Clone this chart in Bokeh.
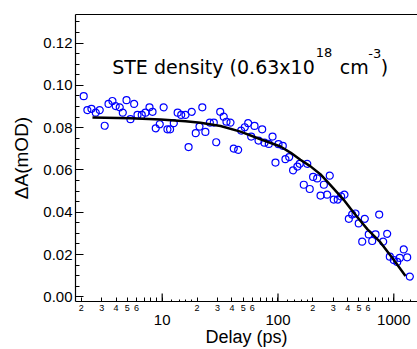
from bokeh.plotting import figure
from bokeh.models import (Range1d, LogAxis, LinearAxis, FixedTicker, PrintfTickFormatter,
                          CustomJSTickFormatter, Label)
from bokeh.embed import file_html
from bokeh.resources import INLINE

# ---- data ----
delay_ps = [2.10, 2.26, 2.45, 2.67, 2.89, 3.19, 3.44, 3.72, 3.97, 4.30,
            4.57, 4.92, 5.32, 5.73, 6.12, 6.66, 7.17, 7.77, 8.25, 8.80,
            9.53, 10.3, 11.1, 11.7, 12.6, 13.6, 14.6, 15.9, 16.9, 18.0,
            19.5, 21.0, 22.2, 23.6, 25.8, 27.9, 29.3, 31.7, 34.0, 35.9,
            38.9, 41.5, 45.3, 48.1, 51.7, 55.3, 58.7, 62.7, 67.9, 73.0,
            76.4, 83.3, 89.7, 95.1, 101, 110, 116, 125, 135, 147,
            154, 167, 179, 188, 201, 218, 233, 249, 266, 280,
            303, 328, 351, 375, 409, 437, 467, 498, 534, 562,
            608, 651, 695, 748, 810, 877, 924, 1000, 1070, 1126,
            1220, 1305, 1376]
delta_a = [0.0949, 0.0883, 0.0889, 0.0871, 0.0883, 0.0809, 0.0912, 0.0926, 0.0902, 0.0896,
           0.0871, 0.0930, 0.0840, 0.0912, 0.0860, 0.0860, 0.0871, 0.0896, 0.0875, 0.0797,
           0.0816, 0.0896, 0.0792, 0.0792, 0.0821, 0.0871, 0.0860, 0.0860, 0.0708, 0.0875,
           0.0774, 0.0805, 0.0896, 0.0780, 0.0824, 0.0824, 0.0731, 0.0875, 0.0852, 0.0828,
           0.0824, 0.0701, 0.0695, 0.0786, 0.0802, 0.0821, 0.0758, 0.0808, 0.0739, 0.0792,
           0.0729, 0.0723, 0.0758, 0.0635, 0.0722, 0.0714, 0.0651, 0.0661, 0.0598, 0.0616,
           0.0629, 0.0530, 0.0629, 0.0510, 0.0567, 0.0560, 0.0479, 0.0530, 0.0483, 0.0573,
           0.0460, 0.0460, 0.0475, 0.0483, 0.0369, 0.0389, 0.0394, 0.0347, 0.0261, 0.0369,
           0.0295, 0.0264, 0.0295, 0.0389, 0.0261, 0.0298, 0.0190, 0.0174, 0.0165, 0.0184,
           0.0224, 0.0187, 0.0096]

fit_delay_ps = [2.5, 5.3, 9.7, 15.9, 21.4, 31.9, 47.4, 70.6, 105, 129,
                156, 191, 232, 284, 368, 449, 593, 768, 994, 1262]
fit_delta_a = [0.0848, 0.0844, 0.0838, 0.0830, 0.0823, 0.0808, 0.0781, 0.0745, 0.0711, 0.0681,
               0.0648, 0.0617, 0.0580, 0.0528, 0.0460, 0.0399, 0.0319, 0.0257, 0.0177, 0.0099]

y_major_ticks = [0.00, 0.02, 0.04, 0.06, 0.08, 0.10, 0.12]
y_minor_ticks = [0.005, 0.010, 0.015, 0.025, 0.030, 0.035, 0.045, 0.050, 0.055,
                 0.065, 0.070, 0.075, 0.085, 0.090, 0.095, 0.105, 0.110, 0.115,
                 0.125, 0.130]
x_small_ticks = [2, 3, 4, 5, 6, 7, 8, 9, 20, 30, 40, 50, 60, 70, 80, 90,
                 200, 300, 400, 500, 600, 700, 800, 900]
x_sub_ticks = [12, 14, 16, 18, 120, 140, 160, 180, 1200, 1400]
x_decade_ticks = [10, 100, 1000]
x_axis_title = "Delay (ps)"
y_axis_title = "ΔA(mOD)"

title_main = "STE density (0.63x10"
title_exp1 = "18"
title_unit = "cm"
title_exp2 = "-3"
title_close = ")"

X_MIN, X_MAX = 1.784, 1602
Y_MIN, Y_MAX = -0.0022, 0.1335

p = figure(width=417, height=349, x_axis_type="log",
           x_range=Range1d(X_MIN, X_MAX), y_range=Range1d(Y_MIN, Y_MAX),
           x_axis_location=None, y_axis_location=None,
           output_backend="svg", toolbar_location=None,
           min_border_left=75, min_border_right=0, min_border_top=14, min_border_bottom=47)
p.grid.grid_line_color = None
p.outline_line_color = None
p.background_fill_color = "white"
p.border_fill_color = "white"

LABEL_FONT = "Liberation Sans"

# y axis
yaxis = LinearAxis(ticker=FixedTicker(ticks=y_major_ticks, minor_ticks=y_minor_ticks),
                   formatter=PrintfTickFormatter(format="%.2f"),
                   axis_label=y_axis_title)
yaxis.major_tick_in = 8
yaxis.major_tick_out = 0
yaxis.minor_tick_in = 4
yaxis.minor_tick_out = 0
yaxis.major_label_standoff = 3
yaxis.axis_label_standoff = 8
yaxis.axis_line_width = 1.2
yaxis.major_tick_line_width = 1.2
yaxis.major_label_text_font = LABEL_FONT
yaxis.major_label_text_font_size = "15px"
yaxis.major_label_text_color = "black"
yaxis.axis_label_text_font = LABEL_FONT
yaxis.axis_label_text_font_size = "19px"
yaxis.axis_label_text_font_style = "normal"
yaxis.axis_label_text_color = "black"
p.add_layout(yaxis, "left")

# x axis with small labels 2..6
small_fmt = CustomJSTickFormatter(code="""
const e = Math.floor(Math.log10(tick) + 1e-9);
const d = Math.round(tick / Math.pow(10, e));
return (d >= 2 && d <= 6) ? String(d) : "";
""")
xaxis_small = LogAxis(ticker=FixedTicker(ticks=x_small_ticks + x_decade_ticks, minor_ticks=x_sub_ticks),
                      formatter=small_fmt)
xaxis_small.major_tick_in = 4
xaxis_small.major_tick_out = 0
xaxis_small.minor_tick_in = 2
xaxis_small.minor_tick_out = 0
xaxis_small.major_label_standoff = 3
xaxis_small.axis_line_width = 1.2
xaxis_small.major_label_text_font = LABEL_FONT
xaxis_small.major_label_text_font_size = "9px"
xaxis_small.major_label_text_color = "black"
p.add_layout(xaxis_small, "below")

# x axis with decade labels and title
xaxis_dec = LogAxis(ticker=FixedTicker(ticks=x_decade_ticks), formatter=PrintfTickFormatter(format="%d"),
                    axis_label=x_axis_title)
xaxis_dec.axis_line_color = None
xaxis_dec.major_tick_line_color = None
xaxis_dec.minor_tick_line_color = None
xaxis_dec.major_tick_in = 0
xaxis_dec.major_tick_out = 0
xaxis_dec.major_label_standoff = 1
xaxis_dec.axis_label_standoff = -1
xaxis_dec.major_label_text_font = LABEL_FONT
xaxis_dec.major_label_text_font_size = "15px"
xaxis_dec.major_label_text_color = "black"
xaxis_dec.axis_label_text_font = LABEL_FONT
xaxis_dec.axis_label_text_font_size = "18px"
xaxis_dec.axis_label_text_font_style = "normal"
xaxis_dec.axis_label_text_color = "black"
p.add_layout(xaxis_dec, "below")

# top frame line
top_axis = LogAxis(ticker=FixedTicker(ticks=[]))
top_axis.major_tick_line_color = None
top_axis.minor_tick_line_color = None
top_axis.major_label_text_font_size = "0px"
top_axis.axis_line_width = 1.2
p.add_layout(top_axis, "above")

# longer decade ticks
tick_len = 0.0038
p.segment(x0=x_decade_ticks, x1=x_decade_ticks,
          y0=[Y_MIN] * len(x_decade_ticks), y1=[Y_MIN + tick_len] * len(x_decade_ticks),
          line_color="black", line_width=1.2)

# data
p.scatter(delay_ps, delta_a, marker="circle", size=7, fill_color=None,
          line_color="#0000ff", line_width=1.2)
p.line(fit_delay_ps, fit_delta_a, line_color="black", line_width=2.5)

# title text
TF = "DejaVu Sans"
p.add_layout(Label(x=3.70, y=0.1086, text=title_main, text_font=TF, text_font_size="19px",
                   text_baseline="alphabetic", text_color="black"))
p.add_layout(Label(x=212, y=0.1153, text=title_exp1, text_font=TF, text_font_size="13px",
                   text_baseline="alphabetic", text_color="black"))
p.add_layout(Label(x=341.8, y=0.1086, text=title_unit, text_font=TF, text_font_size="19px",
                   text_baseline="alphabetic", text_color="black"))
p.add_layout(Label(x=601, y=0.1150, text=title_exp2, text_font=TF, text_font_size="13px",
                   text_baseline="alphabetic", text_color="black"))
p.add_layout(Label(x=772, y=0.1086, text=title_close, text_font=TF, text_font_size="19px",
                   text_baseline="alphabetic", text_color="black"))

open("out.html", "w").write(file_html(p, INLINE))
